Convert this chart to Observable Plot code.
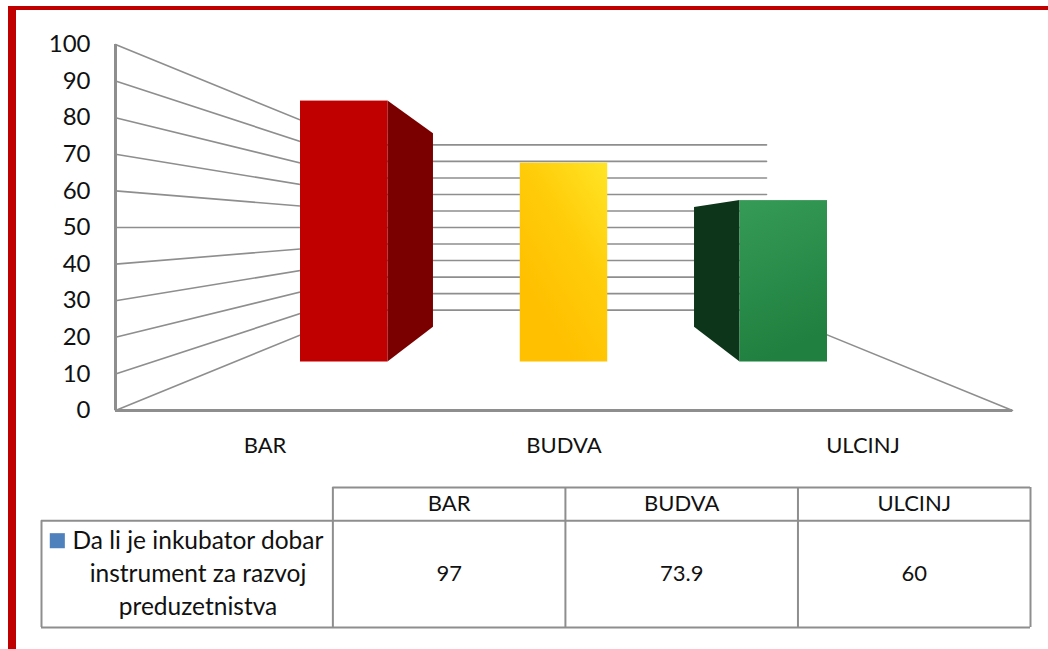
<!DOCTYPE html>
<html>
<head>
<meta charset="utf-8">
<style>
html,body{margin:0;padding:0;background:#fff;overflow:hidden;width:1048px;height:649px}
#frame{position:absolute;left:8px;top:6px;right:0;bottom:0;border-left:8px solid #c00000;border-top:4px solid #c00000;pointer-events:none}
#chart,#table{position:absolute;left:0;width:1048px}
#chart{top:0}#table{top:460px}
svg{display:block;background:transparent!important}
</style>
<script src="https://cdn.jsdelivr.net/npm/d3@7"></script>
<script src="https://cdn.jsdelivr.net/npm/@observablehq/plot@0.6"></script>
</head>
<body>
<div id="frame"></div>
<div id="chart"></div>
<div id="table"></div>
<script>
const categories = ["BAR", "BUDVA", "ULCINJ"];
const values = [97, 73.9, 60];
const yTicks = [0, 10, 20, 30, 40, 50, 60, 70, 80, 90, 100];
const seriesName = ["Da li je inkubator dobar", "instrument za razvoj", "preduzetnistva"];

const FONT = "Lato, 'Open Sans', sans-serif";
const GRID = "#8e8e8e";
const INK = "#111";

// Perspective of the 3D chart: a value (v) at column position (x) and depth (s).
const CENTRE_X = 1.5, CENTRE_V = 50;
const S_BACK = 0.4515, S_BAR_FRONT = 0.735, S_BAR_BACK = 0.545;
const px = (x, s) => CENTRE_X + (x - CENTRE_X) * s;
const pv = (v, s) => CENTRE_V + (v - CENTRE_V) * s;
const BAR_HALF = 0.199;

const faces = categories.map((name, i) => ({
  name, value: values[i], x1: i + 0.5 - BAR_HALF, x2: i + 0.5 + BAR_HALF
}));
const frontFills = ["#c00000", "url(#yellowGrad)", "url(#greenGrad)"];

// side faces: right side of BAR, left side of ULCINJ
const sides = [
  {name: "BAR", edge: faces[0].x2, value: values[0], fill: "#7a0000"},
  {name: "ULCINJ", edge: faces[2].x1, value: values[2], fill: "#0d3519"}
].flatMap(d => [S_BAR_FRONT, S_BAR_BACK].map(s => ({
  name: d.name, fill: d.fill, x: px(d.edge, s), y1: pv(0, s), y2: pv(d.value, s)
})));

const wallLeft = yTicks.flatMap(v => [
  {v, x: 0, y: v}, {v, x: px(0, S_BACK), y: pv(v, S_BACK)}
]);
const wallBack = yTicks.flatMap(v => [
  {v, x: px(0, S_BACK), y: pv(v, S_BACK)}, {v, x: px(3, S_BACK), y: pv(v, S_BACK)}
]);
const floorRight = [{x: px(3, S_BACK), y: pv(0, S_BACK)}, {x: 3, y: 0}];

const gradients = () => {
  const ns = "http://www.w3.org/2000/svg";
  const defs = document.createElementNS(ns, "defs");
  defs.innerHTML = `
    <linearGradient id="yellowGrad" x1="1" y1="0" x2="0.4" y2="0.85">
      <stop offset="0" stop-color="#ffe526"/><stop offset="0.5" stop-color="#ffcd0a"/><stop offset="1" stop-color="#ffc000"/>
    </linearGradient>
    <linearGradient id="greenGrad" x1="0" y1="0" x2="0.25" y2="1">
      <stop offset="0" stop-color="#369b57"/><stop offset="1" stop-color="#20803f"/>
    </linearGradient>`;
  return defs;
};

const chart = Plot.plot({
  width: 1048, height: 460,
  marginLeft: 115, marginRight: 36, marginTop: 44, marginBottom: 50,
  style: {background: "transparent", fontFamily: FONT, color: INK},
  x: {domain: [0, 3], axis: null},
  y: {domain: [0, 100], axis: null},
  marks: [
    gradients,
    Plot.line(wallLeft, {x: "x", y: "y", z: "v", stroke: GRID, strokeWidth: 1.6}),
    Plot.line(wallBack, {x: "x", y: "y", z: "v", stroke: GRID, strokeWidth: 1.6}),
    Plot.line(floorRight, {x: "x", y: "y", stroke: GRID, strokeWidth: 1.6}),
    Plot.ruleX([0], {y1: 0, y2: 100, stroke: GRID, strokeWidth: 3}),
    Plot.ruleY([0], {x1: 0, x2: 3, stroke: GRID, strokeWidth: 3}),
    Plot.areaY(sides, {x: "x", y1: "y1", y2: "y2", z: "name", fill: "fill"}),
    Plot.rect(faces, {
      x1: d => px(d.x1, S_BAR_FRONT), x2: d => px(d.x2, S_BAR_FRONT),
      y1: () => pv(0, S_BAR_FRONT), y2: d => pv(d.value, S_BAR_FRONT),
      fill: (d, i) => frontFills[i]
    }),
    Plot.axisY({ticks: yTicks, tickSize: 0, tickPadding: 25, fontSize: 24, anchor: "left", label: null}),
    Plot.axisX({ticks: [0.5, 1.5, 2.5], tickFormat: (d, i) => categories[i], tickSize: 0, tickPadding: 27, fontSize: 22, anchor: "bottom", label: null})
  ]
});
document.getElementById("chart").append(chart);

// Data table below the chart: x in columns, y in text rows.
const colEdges = [0, 1, 2, 3];
const LABEL_EDGE = -1.253, LABEL_CENTRE = -0.58, HEADER_Y = 0.5, ROW_TOP = 1, ROW_BOTTOM = 4.21;
const table = Plot.plot({
  width: 1048, height: 189,
  marginLeft: 41, marginRight: 18, marginTop: 27, marginBottom: 22,
  style: {background: "transparent", fontFamily: FONT, color: INK},
  x: {domain: [LABEL_EDGE, 3], axis: null},
  y: {domain: [ROW_BOTTOM, 0], axis: null},
  marks: [
    Plot.ruleY([0], {x1: 0, x2: 3, stroke: GRID, strokeWidth: 2}),
    Plot.ruleY([ROW_TOP, ROW_BOTTOM], {x1: LABEL_EDGE, x2: 3, stroke: GRID, strokeWidth: 2}),
    Plot.ruleX(colEdges, {y1: 0, y2: ROW_BOTTOM, stroke: GRID, strokeWidth: 2}),
    Plot.ruleX([LABEL_EDGE], {y1: ROW_TOP, y2: ROW_BOTTOM, stroke: GRID, strokeWidth: 2}),
    Plot.text(categories, {x: (d, i) => i + 0.5, y: () => HEADER_Y, text: d => d, fontSize: 22}),
    Plot.text(values, {x: (d, i) => i + 0.5, y: () => 2.6, text: d => String(d), fontSize: 22}),
    Plot.text(seriesName, {x: () => LABEL_CENTRE, y: (d, i) => 1.6 + i, text: d => d, fontSize: 24.5}),
    Plot.dot(seriesName.slice(0, 1), {x: () => -1.185, y: () => 1.6, symbol: "square", r: 8.5, fill: "#4f81bd"})
  ]
});
document.getElementById("table").append(table);
</script>
</body>
</html>
